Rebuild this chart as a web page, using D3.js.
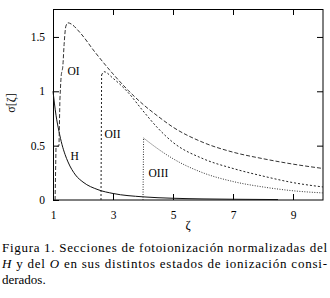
<!DOCTYPE html>
<html><head><meta charset="utf-8">
<script src="https://cdn.jsdelivr.net/npm/d3@7"></script>
<style>body{margin:0;background:#fff}svg{display:block}</style>
</head><body>
<svg id="c" width="330" height="298"></svg>
<script>
const xTicks = [1, 3, 5, 7, 9];
const yTicks = [0, 0.5, 1, 1.5];
const yTickLabels = ["0", "0.5", "1", "1.5"];

const hZeta = [1.0, 1.1, 1.2, 1.3, 1.4, 1.5, 1.75, 2.0, 2.5, 3.0, 4.0, 5.0, 6.0, 7.0, 8.0, 8.5];
const hSigma = [1.0, 0.78, 0.63, 0.51, 0.42, 0.35, 0.23, 0.165, 0.095, 0.06, 0.029, 0.016, 0.010, 0.007, 0.005, 0.004];

const oiZeta = [1.07, 1.1, 1.2, 1.23, 1.27, 1.33, 1.37, 1.43, 1.5, 1.6, 1.9, 2.4, 3.0, 3.5, 4.0, 4.5, 5.0, 6.0, 7.0, 8.0, 9.0, 10.0];
const oiSigma = [0, 0.49, 0.5, 0.92, 1.13, 1.24, 1.43, 1.6, 1.63, 1.62, 1.54, 1.36, 1.16, 1.01, 0.88, 0.77, 0.67, 0.53, 0.44, 0.38, 0.33, 0.29];

const oiiZeta = [2.6, 2.62, 2.7, 3.0, 3.5, 4.0, 4.5, 5.0, 6.0, 7.0, 8.0, 9.0, 10.0];
const oiiSigma = [0, 1.15, 1.18, 1.12, 0.99, 0.82, 0.66, 0.53, 0.38, 0.29, 0.22, 0.16, 0.12];

const oiiiZeta = [4.0, 4.02, 4.5, 5.0, 6.0, 7.0, 8.0, 9.0, 10.0];
const oiiiSigma = [0, 0.57, 0.47, 0.38, 0.25, 0.17, 0.12, 0.085, 0.065];

const seriesLabels = ["H", "OI", "OII", "OIII"];
const caption1 = "Figura 1. Secciones de fotoionización normalizadas del";
const caption3 = "derados.";

const svg = d3.select("#c");
const serif = "'Liberation Serif', 'DejaVu Serif', serif";
const x = d3.scaleLinear().domain([1, 10]).range([53, 323]);
const y = d3.scaleLinear().domain([0, 1.757]).range([200, 9]);

// axes with inward ticks
const gB = svg.append("g").attr("transform", "translate(0,200)")
  .call(d3.axisBottom(x).tickValues(xTicks).tickSize(-6).tickPadding(11).tickFormat(d3.format("d")));
const gT = svg.append("g").attr("transform", "translate(0,9)")
  .call(d3.axisTop(x).tickValues(xTicks.slice(1)).tickSize(-6).tickFormat(""));
const gL = svg.append("g").attr("transform", "translate(53,0)")
  .call(d3.axisLeft(y).tickValues(yTicks).tickSize(-6).tickPadding(8).tickFormat((d, i) => yTickLabels[i]));
const gR = svg.append("g").attr("transform", "translate(323,0)")
  .call(d3.axisRight(y).tickValues(yTicks.slice(1)).tickSize(-6).tickFormat(""));
[gB, gT, gL, gR].forEach(g => {
  g.select(".domain").remove();
  g.selectAll("line").attr("stroke", "#000");
  g.selectAll("text").attr("font-family", serif).attr("font-size", 11.5).attr("fill", "#000");
});

svg.append("rect").attr("x", 53.5).attr("y", 9.5).attr("width", 269.5).attr("height", 190.5)
  .attr("fill", "none").attr("stroke", "#000").attr("stroke-width", 1);

const line = d3.line().x(d => x(d[0])).y(d => y(d[1]));
const curve = d3.line().x(d => x(d[0])).y(d => y(d[1])).curve(d3.curveMonotoneX);

function draw(zs, ss, dash, color, width, split) {
  const pts = zs.map((z, i) => [z, ss[i]]);
  // vertical jump drawn as straight segment, the rest smooth
  const head = pts.slice(0, split + 1);
  const tail = pts.slice(split);
  if (head.length > 1) svg.append("path").attr("d", line(head)).attr("fill", "none")
    .attr("stroke", color).attr("stroke-width", width).attr("stroke-dasharray", dash);
  svg.append("path").attr("d", curve(tail)).attr("fill", "none")
    .attr("stroke", color).attr("stroke-width", width).attr("stroke-dasharray", dash);
}

draw(hZeta, hSigma, null, "#111", 1, 0);
draw(oiZeta, oiSigma, "4,2", "#333", 1, 3);
draw(oiiZeta, oiiSigma, "2,2", "#222", 1, 1);
draw(oiiiZeta, oiiiSigma, "1,1.5", "#333", 1, 1);

const labelPos = [[70.5, 160], [67.5, 75], [104.5, 138], [148.5, 177]];
seriesLabels.forEach((t, i) => {
  svg.append("text").attr("x", labelPos[i][0]).attr("y", labelPos[i][1])
    .attr("font-family", serif).attr("font-size", 11.5).text(t);
});

svg.append("text").attr("transform", "translate(15,103) rotate(-90)")
  .attr("text-anchor", "middle").attr("font-family", serif).attr("font-size", 12).text("σ[ζ]");
svg.append("text").attr("x", 188).attr("y", 229).attr("text-anchor", "middle")
  .attr("font-family", serif).attr("font-size", 12.5).text("ζ");

svg.append("text").attr("x", 2).attr("y", 252).attr("font-family", serif).attr("font-size", 13)
  .attr("textLength", 325).attr("lengthAdjust", "spacing").text(caption1);
const l2 = svg.append("text").attr("x", 2).attr("y", 268).attr("font-family", serif).attr("font-size", 13)
  .attr("textLength", 325).attr("lengthAdjust", "spacing");
l2.append("tspan").attr("font-style", "italic").text("H");
l2.append("tspan").text(" y del ");
l2.append("tspan").attr("font-style", "italic").text("O");
l2.append("tspan").text(" en sus distintos estados de ionización consi-");
svg.append("text").attr("x", 2).attr("y", 284).attr("font-family", serif).attr("font-size", 13).text(caption3);
</script>
</body></html>
